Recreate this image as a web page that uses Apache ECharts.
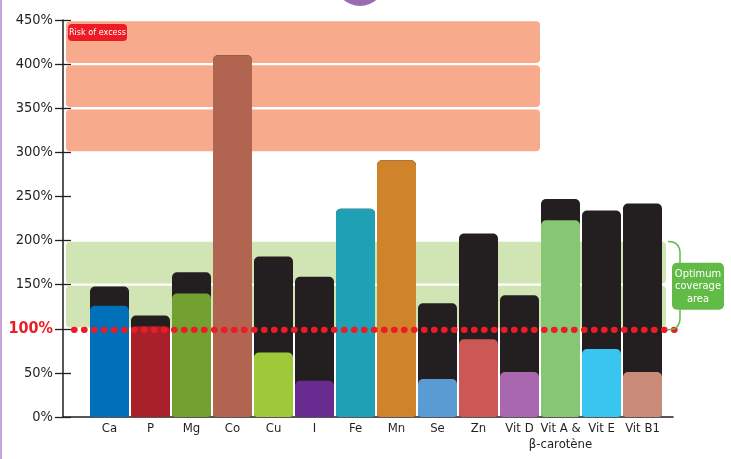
<!DOCTYPE html>
<html>
<head>
<meta charset="utf-8">
<script src="https://cdn.jsdelivr.net/npm/echarts@6/dist/echarts.min.js"></script>
<style>
html,body{margin:0;padding:0;background:#fff;}
#chart{width:731px;height:459px;}
</style>
</head>
<body>
<div id="chart"></div>
<script>
const categories = ['Ca','P','Mg','Co','Cu','I','Fe','Mn','Se','Zn','Vit D','Vit A &\nβ-carotène','Vit E','Vit B1'];
const upperValues = [148,115,164,410,182,159,236,291,129,208,138,247,234,242];
const coverageValues = [126,103,140,410,73,41,236,291,43,88,51,223,77,51];
const barColors = ['#0070b8','#a8212a','#72a031','#b16551','#a0c93a','#682c91','#1fa0b5','#cf832a','#5b9bd3','#cc5856','#a867ae','#86c674','#38c6f1','#c98b78'];
const yMin = 0, yMax = 450, yStep = 50;
const excessBands = [[300,350],[350,400],[400,450]];
const optimumBands = [[100,150],[150,200]];
const targetLevel = 100;
const excessLabel = 'Risk of excess';
const optimumLabel = 'Optimum\ncoverage\narea';

const FONT = "'DejaVu Sans Condensed',sans-serif";
const INK = '#231f20';
const GREEN = '#62bb46';
const chart = echarts.init(document.getElementById('chart'), null, {renderer:'canvas'});

const bandData = excessBands.map(b => [0, b[0], b[1], 0]).concat(optimumBands.map(b => [0, b[0], b[1], 1]));

function renderBand(params, api){
  const cs = params.coordSys;
  const lo = api.value(1), hi = api.value(2), kind = api.value(3);
  const yTop = api.coord([0, hi])[1] + 1.2;
  const yBot = api.coord([0, lo])[1] - 1.2;
  const x0 = cs.x - 23;
  const band = api.size([1, 0])[0];
  const x1 = kind === 1 ? cs.x + cs.width + 3 : api.coord([10, 0])[0] + band / 2;
  return {
    type:'rect',
    shape:{x:x0, y:yTop, width:x1 - x0, height:yBot - yTop, r:4},
    style:{fill: kind === 1 ? '#d1e4b4' : '#f8aa8c'}
  };
}

function renderTarget(params, api){
  const cs = params.coordSys;
  const y = api.coord([0, api.value(1)])[1] + 1;
  return {
    type:'line',
    shape:{x1:cs.x - 15, y1:y, x2:cs.x + cs.width + 13, y2:y},
    style:{stroke:'#ed1c24', lineWidth:6.2, lineDash:[0.6, 9.4], lineCap:'round'}
  };
}

function renderOptimumNote(params, api){
  const cs = params.coordSys;
  const yT = api.coord([0, api.value(2)])[1] + 1;
  const yB = api.coord([0, api.value(1)])[1] + 1;
  const xR = cs.x + cs.width;
  const xs = xR + 5, xv = xR + 17;
  const mid = (yT + yB) / 2;
  return {
    type:'group',
    children:[
      {type:'path', shape:{pathData:
        'M' + xs + ' ' + yT + ' Q' + xv + ' ' + yT + ' ' + xv + ' ' + (yT + 12) +
        ' L' + xv + ' ' + (yB - 12) + ' Q' + xv + ' ' + yB + ' ' + xs + ' ' + yB},
        style:{stroke:GREEN, lineWidth:1.5, fill:null}},
      {type:'rect', shape:{x:xR + 9, y:mid - 23, width:52, height:47, r:5}, style:{fill:GREEN}},
      {type:'text', x:xR + 35, y:mid + 0.5, style:{text:optimumLabel, fill:'#fff', font:'11px ' + FONT, lineHeight:12.5, align:'center', verticalAlign:'middle'}}
    ]
  };
}

const option = {
  backgroundColor:'#ffffff',
  animation:false,
  grid:[
    {left:89, right:68, top:20, bottom:42},
    {left:63, right:58, top:20, bottom:42}
  ],
  xAxis:[
    {
      type:'category', gridIndex:0, data:categories,
      axisLine:{show:false}, axisTick:{show:false},
      axisLabel:{interval:0, color:INK, fontFamily:FONT, fontSize:13, lineHeight:16, margin:4}
    },
    {
      type:'value', gridIndex:1, min:0, max:1,
      axisLine:{show:true, lineStyle:{color:INK, width:1.5}},
      axisTick:{show:false}, axisLabel:{show:false}, splitLine:{show:false}
    }
  ],
  yAxis:[
    {
      type:'value', gridIndex:0, position:'left', offset:26,
      min:yMin, max:yMax, interval:yStep,
      axisLine:{show:true, lineStyle:{color:INK, width:1.5}},
      axisTick:{show:true, length:8, lineStyle:{color:INK, width:1.3}},
      splitLine:{show:false},
      axisLabel:{
        margin:10, color:INK, fontFamily:FONT, fontSize:14.5,
        formatter: v => v === targetLevel ? '{red|' + v + '%}' : v + '%',
        rich:{red:{color:'#ed1c24', fontFamily:FONT, fontSize:16, fontWeight:'bold'}}
      }
    },
    {
      type:'value', gridIndex:0, position:'left', offset:26,
      min:yMin, max:yMax, interval:yStep,
      axisLine:{show:false},
      axisTick:{show:true, inside:true, length:8, lineStyle:{color:INK, width:1.3}},
      axisLabel:{show:false}, splitLine:{show:false}
    },
    {type:'value', gridIndex:1, show:false, min:0, max:1}
  ],
  series:[
    {
      type:'custom', name:'bands', xAxisIndex:0, yAxisIndex:0, z:1,
      encode:{x:0, y:[1,2]}, data:bandData, renderItem:renderBand, silent:true
    },
    {
      type:'bar', name:'upper', xAxisIndex:0, yAxisIndex:0, z:2,
      barWidth:39, barGap:'-100%',
      itemStyle:{color:INK, borderRadius:[5,5,3,3]},
      data:upperValues
    },
    {
      type:'bar', name:'coverage', xAxisIndex:0, yAxisIndex:0, z:3,
      barWidth:39, barGap:'-100%',
      data:coverageValues.map((v, i) => ({value:v, itemStyle:{color:barColors[i], borderRadius:[5,5,3,3]}}))
    },
    {
      type:'custom', name:'target', xAxisIndex:0, yAxisIndex:0, z:4,
      encode:{x:0, y:1}, data:[[0, targetLevel]], renderItem:renderTarget, silent:true
    },
    {
      type:'custom', name:'optimumNote', xAxisIndex:0, yAxisIndex:0, z:5,
      encode:{x:0, y:[1,2]}, data:[[0, optimumBands[0][0], optimumBands[optimumBands.length - 1][1]]],
      renderItem:renderOptimumNote, silent:true
    }
  ]
};
chart.setOption(option);

const yTopExcess = chart.convertToPixel({yAxisIndex:0}, excessBands[excessBands.length - 1][1]);

chart.setOption({
  graphic:[
    {type:'rect', shape:{x:0, y:0, width:2, height:459}, style:{fill:'#c6a6d8'}, z:10},
    {type:'circle', shape:{cx:360, cy:-19, r:25}, style:{fill:'#9b6bb2'}, z:10},
    {type:'rect', shape:{x:68, y:yTopExcess + 4, width:59, height:17, r:4}, style:{fill:'#ed1c24'}, z:10},
    {type:'text', x:97.5, y:yTopExcess + 12.5, style:{text:excessLabel, fill:'#fff', font:'9px ' + FONT, align:'center', verticalAlign:'middle'}, z:11}
  ]
});
</script>
</body>
</html>
